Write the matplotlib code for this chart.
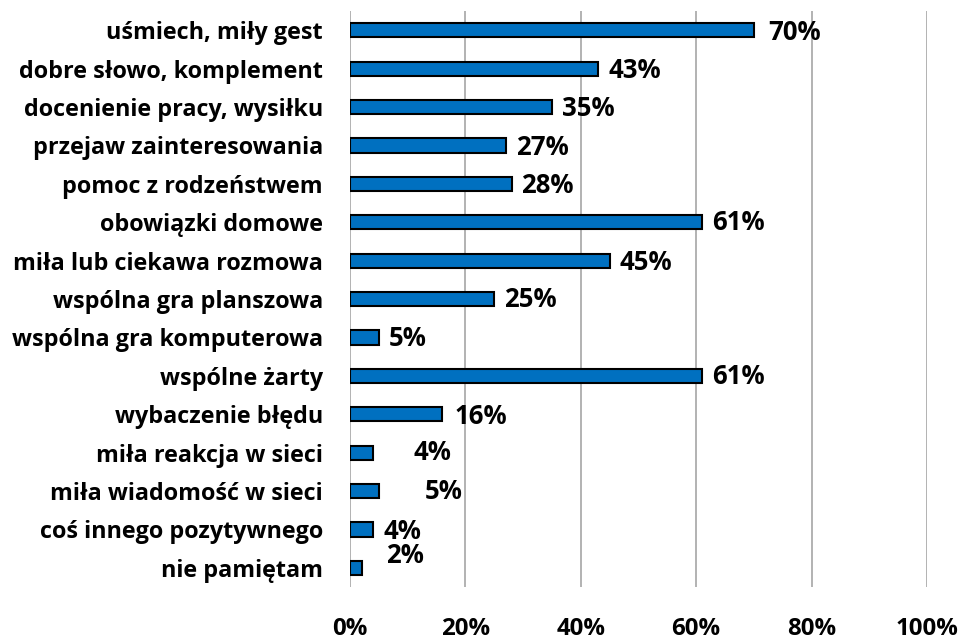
import matplotlib
matplotlib.use("Agg")
import matplotlib.pyplot as plt

categories = [
    "uśmiech, miły gest",
    "dobre słowo, komplement",
    "docenienie pracy, wysiłku",
    "przejaw zainteresowania",
    "pomoc z rodzeństwem",
    "obowiązki domowe",
    "miła lub ciekawa rozmowa",
    "wspólna gra planszowa",
    "wspólna gra komputerowa",
    "wspólne żarty",
    "wybaczenie błędu",
    "miła reakcja w sieci",
    "miła wiadomość w sieci",
    "coś innego pozytywnego",
    "nie pamiętam",
]
values = [70, 43, 35, 27, 28, 61, 45, 25, 5, 61, 16, 4, 5, 4, 2]
xticks = [0, 20, 40, 60, 80, 100]
xtick_labels = ["0%", "20%", "40%", "60%", "80%", "100%"]

# label nudges (pixels right, pixels down) relative to bar end
label_dx = [14, 10, 10, 10, 10, 10, 10, 10, 10, 10, 12, 40, 46, 10, 25]
label_dy = [2, 2, 1, 2, 2, 0, 2, 0, 1, 1, 2, 0, 0, 2, -12]

plt.rcParams["font.family"] = ["Open Sans", "DejaVu Sans"]

fig = plt.figure(figsize=(9.66, 6.41), dpi=100)
ax = fig.add_axes([0.3623, 0.0842, 0.5973, 0.8986])

y = list(range(len(categories)))
ax.barh(y, values, height=0.37, color="#0070C0", edgecolor="black", linewidth=1.5, zorder=3)

ax.set_xlim(0, 100)
ax.set_ylim(len(categories) - 0.5, -0.5)
ax.set_xticks(xticks)
ax.set_xticklabels(xtick_labels, fontsize=17.3, fontweight="bold")
ax.set_yticks(y)
ax.set_yticklabels(categories, fontsize=16.8, fontweight="bold")
ax.tick_params(axis="both", length=0)
ax.tick_params(axis="x", pad=21.5)
ax.tick_params(axis="y", pad=19.5)
ax.grid(axis="x", color="#A6A6A6", linewidth=1.2, zorder=0)
for s in ax.spines.values():
    s.set_visible(False)

for i, v in enumerate(values):
    ax.annotate(f"{v}%", xy=(v, i), xytext=(label_dx[i] * 0.72, -label_dy[i] * 0.72),
                textcoords="offset points", ha="left", va="center",
                fontsize=18.5, fontweight="bold", zorder=4)

fig.savefig("out.png", dpi=100)
